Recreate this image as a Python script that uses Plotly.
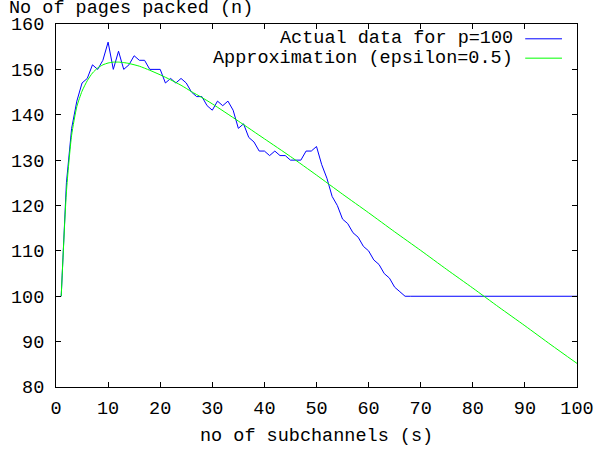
import plotly.graph_objects as go

# ---- data ----
s_actual = list(range(1, 101))
n_actual = [100, 125, 137, 143, 147, 148, 151, 150, 152, 156,
            150, 154, 150, 151, 153, 152, 152, 150, 150, 150,
            147, 148, 147, 148, 147, 145, 144, 144, 142, 141,
            143, 142, 143, 141, 137, 138, 135, 134, 132, 132,
            131, 132, 131, 131, 130, 130, 130, 132, 132, 133,
            129, 126, 122, 120, 117, 116, 114, 113, 111, 110,
            108, 107, 105, 104, 102, 101] + [100] * 34

s_approx = [1, 2, 3, 4, 5, 6, 7, 8, 9, 10, 11, 12, 13, 14, 16, 18, 20, 22, 24,
            26, 28, 30, 35, 40, 45, 50, 55, 60, 65, 70, 75, 80, 85, 90, 95, 100]
n_approx = [100, 123, 135.5, 141.8, 145.2, 147.5, 149.2, 150.3, 151.0, 151.4,
            151.6, 151.6, 151.5, 151.3, 150.7, 149.8, 148.8, 147.7, 146.5,
            145.1, 143.8, 142.4, 138.6, 134.7, 130.8, 126.7, 122.5, 118.4,
            114.2, 110.1, 105.9, 101.8, 97.6, 93.5, 89.3, 85.2]

series_names = ["Actual data for p=100", "Approximation (epsilon=0.5)"]
series_colors = ["#0000ff", "#00ff00"]
x_ticks = list(range(0, 101, 10))
y_ticks = list(range(80, 161, 10))

FONT = "Liberation Mono, Courier New, monospace"
FS = 18.5

fig = go.Figure()
fig.add_trace(go.Scatter(x=s_actual, y=n_actual, mode="lines", name=series_names[0],
                         line=dict(color=series_colors[0], width=1)))
fig.add_trace(go.Scatter(x=s_approx, y=n_approx, mode="lines", name=series_names[1],
                         line=dict(color=series_colors[1], width=1, shape="spline", smoothing=0.6)))

axis_common = dict(showline=True, linecolor="black", linewidth=1, mirror="allticks",
                   ticks="inside", ticklen=5, tickcolor="black", tickwidth=1,
                   showgrid=False, zeroline=False, automargin=False,
                   tickfont=dict(family=FONT, size=FS, color="black"))

fig.update_layout(
    width=600, height=449,
    margin=dict(l=56, r=23, t=24, b=62),
    paper_bgcolor="white", plot_bgcolor="white",
    showlegend=False,
    xaxis=dict(range=[0, 100], tickvals=x_ticks, ticklabelstandoff=4, **axis_common),
    yaxis=dict(range=[80, 160], tickvals=y_ticks, ticklabelstandoff=7, **axis_common),
)

# axis titles
fig.add_annotation(text="No of pages packed (n)", xref="paper", yref="paper",
                   x=-0.0947, y=1.0433, xanchor="left", yanchor="middle",
                   showarrow=False, font=dict(family=FONT, size=FS, color="black"))
fig.add_annotation(text="no of subchannels (s)", xref="paper", yref="paper",
                   x=0.5, y=-0.136, xanchor="center", yanchor="middle",
                   showarrow=False, font=dict(family=FONT, size=FS, color="black"))

# gnuplot-style legend (text right-aligned, sample line to the right)
legend_rows_y = [0.9592, 0.9059]
for name, color, ly in zip(series_names, series_colors, legend_rows_y):
    fig.add_annotation(text=name, xref="paper", yref="paper", x=0.8814, y=ly,
                       xanchor="right", yanchor="middle", showarrow=False,
                       font=dict(family=FONT, size=FS, color="black"))
    fig.add_shape(type="line", xref="paper", yref="paper", x0=0.9006, x1=0.9712,
                  y0=ly, y1=ly, line=dict(color=color, width=1))

fig.write_html("out.html")
